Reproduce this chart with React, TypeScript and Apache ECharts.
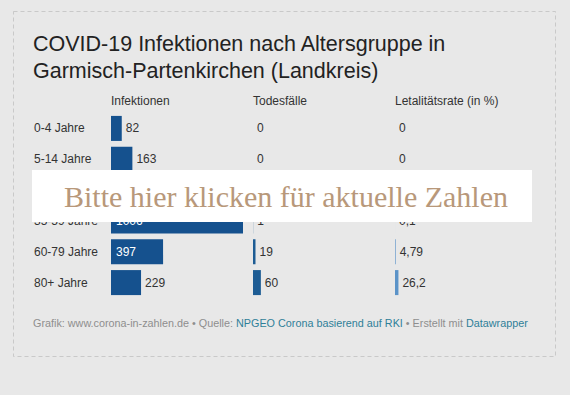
import React, { useEffect, useRef } from "react";
import * as echarts from "echarts";

const ageGroups = ["0-4 Jahre", "5-14 Jahre", "15-34 Jahre", "35-59 Jahre", "60-79 Jahre", "80+ Jahre"];
const infektionen = [82, 163, 560, 1006, 397, 229];
const todesfaelle = [0, 0, 0, 1, 19, 60];
const letalitaet = [0, 0, 0, 0.1, 4.79, 26.2];
const columnHeaders = ["Infektionen", "Todesfälle", "Letalitätsrate (in %)"];

const titleLines = ["COVID-19 Infektionen nach Altersgruppe in", "Garmisch-Partenkirchen (Landkreis)"];
const bannerText = "Bitte hier klicken für aktuelle Zahlen";

export default function App() {
  const ref = useRef<HTMLDivElement>(null);
  useEffect(() => {
    document.body.style.margin = "0";
    const chart = echarts.init(ref.current!, null, { renderer: "svg" });
    const maxVal = Math.max(...infektionen);
    const colLeft = [111, 253, 395];
    const gridTop = 113;
    const gridH = 185;
    const sans = "Liberation Sans, Arial, sans-serif";
    const fmt = (v: number) => String(v).replace(".", ",");

    const grids = colLeft.map((l) => ({ left: l, top: gridTop, width: 132, height: gridH }));
    const xAxes = colLeft.map((_, i) => ({
      type: "value", gridIndex: i, min: 0, max: maxVal, show: false,
    }));
    const yAxes = colLeft.map((_, i) => ({
      type: "category", gridIndex: i, data: ageGroups, inverse: true,
      axisLine: { show: false }, axisTick: { show: false }, splitLine: { show: false },
      axisLabel: i === 0
        ? { show: true, align: "left", margin: 77, color: "#333", fontSize: 12, fontFamily: sans }
        : { show: false },
    }));

    const mk = (vals: number[], i: number, color: string) => ({
      type: "bar", xAxisIndex: i, yAxisIndex: i, barWidth: 25,
      itemStyle: { color },
      label: {
        show: true, position: "right", distance: 4, color: "#333", fontSize: 12, fontFamily: sans,
        formatter: (p: any) => fmt(p.value),
      },
      data: vals.map((v) =>
        v / maxVal * 132 > 40
          ? { value: v, label: { position: "insideLeft", color: "#fff", distance: 5 } }
          : { value: v }
      ),
    });

    chart.setOption({
      animation: false,
      backgroundColor: "#e8e8e8",
      grid: grids,
      xAxis: xAxes,
      yAxis: yAxes,
      series: [
        mk(infektionen, 0, "#15518e"),
        mk(todesfaelle, 1, "#1d5c94"),
        mk(letalitaet, 2, "#5b93c8"),
      ],
      graphic: [
        {
          type: "rect", z: 0, silent: true,
          shape: { x: 13.5, y: 11.5, width: 542, height: 345 },
          style: { fill: "none", stroke: "#c9c9c9", lineWidth: 1, lineDash: [4, 3] },
        },
        ...titleLines.map((t, i) => ({
          type: "text", left: 33, top: 33 + i * 27,
          style: { text: t, fill: "#222", font: `21.5px ${sans}` },
        })),
        ...columnHeaders.map((h, i) => ({
          type: "text", left: colLeft[i], top: 95,
          style: { text: h, fill: "#333", font: `12px ${sans}` },
        })),
        {
          type: "text", left: 33, top: 317,
          style: {
            text: "{g|Grafik: www.corona-in-zahlen.de • Quelle: }{l|NPGEO Corona basierend auf RKI}{g| • Erstellt mit }{l|Datawrapper}",
            font: `10.8px ${sans}`,
            rich: {
              g: { fill: "#8e8e8e", font: `10.8px ${sans}` },
              l: { fill: "#2f7f98", font: `10.8px ${sans}` },
            },
          },
        },
        {
          type: "rect", z: 100,
          shape: { x: 32, y: 170, width: 500, height: 52 },
          style: { fill: "#ffffff" },
        },
        {
          type: "text", z: 101, x: 286, y: 196,
          style: {
            text: bannerText, fill: "#b8987a", font: `30px "Liberation Serif", serif`,
            align: "center", verticalAlign: "middle",
          },
        },
      ],
    });
    return () => chart.dispose();
  }, []);
  return <div ref={ref} style={{ position: "fixed", left: 0, top: 0, width: 570, height: 395 }} />;
}
